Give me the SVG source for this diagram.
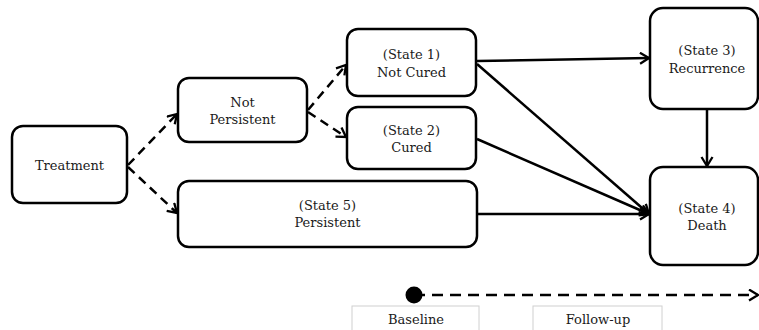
<svg xmlns="http://www.w3.org/2000/svg" width="759" height="330" viewBox="0 0 759 330">
<style>
.box{fill:#fff;stroke:#000;stroke-width:2.5}
.lbl{font-family:"DejaVu Serif","Liberation Serif",serif;font-size:13px;fill:#1a1a1a;text-anchor:middle}
.con{stroke:#000;stroke-width:2.5;fill:none;marker-end:url(#arr)}
.dash{stroke-dasharray:9 6}
.tbox{fill:#fff;stroke:#d0d0d0;stroke-width:1}
</style>
<defs>
<marker id="arr" markerUnits="userSpaceOnUse" markerWidth="13" markerHeight="15" refX="10" refY="6.5" orient="auto">
<path d="M1,1 L10,6.5 L1,12" fill="none" stroke="#000" stroke-width="2.3"/>
</marker>
</defs>
<rect width="759" height="330" fill="#fff"/>
<g id="connectors">
<path class="con dash" d="M128,165 L177,114"/>
<path class="con dash" d="M128,167 L177,213"/>
<path class="con dash" d="M308,110 L346,65"/>
<path class="con dash" d="M308,112 L346,137"/>
<path class="con" d="M477,61 L649,58"/>
<path class="con" d="M477,64 L649,214"/>
<path class="con" d="M477,139 L649,214"/>
<path class="con" d="M477,214 L649,214"/>
<path class="con" d="M707,109 L707,166"/>
</g>
<g id="treatment">
<rect class="box" x="12" y="126" width="115" height="77" rx="11"/>
<text class="lbl" x="69.5" y="170">Treatment</text>
</g>
<g id="not-persistent">
<rect class="box" x="178" y="78" width="129" height="64" rx="11"/>
<text class="lbl" x="242.5" y="107">Not</text>
<text class="lbl" x="242.5" y="124">Persistent</text>
</g>
<g id="state5">
<rect class="box" x="178" y="181" width="299" height="66" rx="11"/>
<text class="lbl" x="327.5" y="210">(State 5)</text>
<text class="lbl" x="327.5" y="227">Persistent</text>
</g>
<g id="state1">
<rect class="box" x="347" y="29" width="129" height="67" rx="11"/>
<text class="lbl" x="411.5" y="59">(State 1)</text>
<text class="lbl" x="411.5" y="77">Not Cured</text>
</g>
<g id="state2">
<rect class="box" x="347" y="107" width="129" height="62" rx="11"/>
<text class="lbl" x="411.5" y="135">(State 2)</text>
<text class="lbl" x="411.5" y="152">Cured</text>
</g>
<g id="state3">
<rect class="box" x="650" y="8" width="108" height="101" rx="13"/>
<text class="lbl" x="707" y="55">(State 3)</text>
<text class="lbl" x="707" y="73">Recurrence</text>
</g>
<g id="state4">
<rect class="box" x="650" y="167" width="108" height="98" rx="13"/>
<text class="lbl" x="707" y="213">(State 4)</text>
<text class="lbl" x="707" y="230">Death</text>
</g>
<g id="timeline">
<path class="con" d="M414,295 L758,295" stroke-dasharray="11 7"/>
<circle cx="414" cy="295" r="8.5" fill="#000"/>
</g>
<g id="baseline">
<rect class="tbox" x="352" y="306" width="127" height="30"/>
<text class="lbl" x="416" y="324">Baseline</text>
</g>
<g id="follow-up">
<rect class="tbox" x="533" y="306" width="129" height="30"/>
<text class="lbl" x="598" y="324">Follow-up</text>
</g>
</svg>
